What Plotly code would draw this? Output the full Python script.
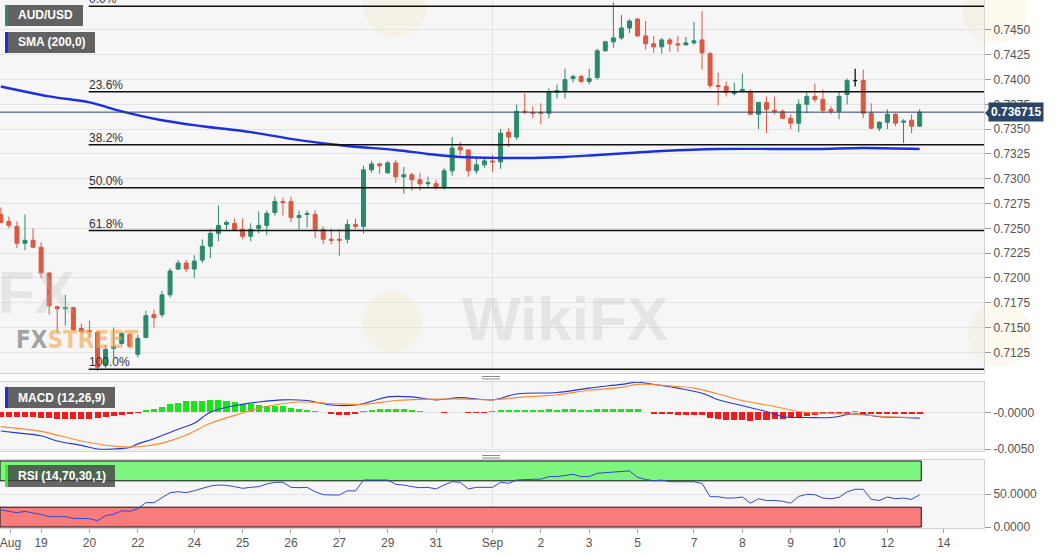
import plotly.graph_objects as go

# ---------------- data (4-hour AUD/USD candles, index = candle number) ----------------
opens = [0.7264, 0.7257, 0.7252, 0.7235, 0.7238, 0.7231, 0.7205, 0.7171, 0.7169, 0.7170,
         0.7149, 0.7147, 0.7145, 0.7112, 0.7129, 0.7134, 0.7143, 0.7123, 0.7140, 0.7163,
         0.7163, 0.7183, 0.7209, 0.7215, 0.7209, 0.7218, 0.7232, 0.7245, 0.7254, 0.7255,
         0.7249, 0.7242, 0.7250, 0.7253, 0.7266, 0.7277, 0.7277, 0.7261, 0.7264, 0.7264,
         0.7249, 0.7239, 0.7239, 0.7239, 0.7254, 0.7252, 0.7309, 0.7315, 0.7306, 0.7316,
         0.7302, 0.7304, 0.7299, 0.7295, 0.7295, 0.7291, 0.7308, 0.7332, 0.7329, 0.7308,
         0.7314, 0.7318, 0.7317, 0.7347, 0.7342, 0.7368, 0.7367, 0.7367, 0.7366, 0.7387,
         0.7389, 0.7401, 0.7403, 0.7398, 0.7402, 0.7429, 0.7438, 0.7442, 0.7452, 0.7461,
         0.7444, 0.7436, 0.7433, 0.7440, 0.7436, 0.7435, 0.7437, 0.7440, 0.7426, 0.7394,
         0.7393, 0.7386, 0.7388, 0.7388, 0.7365, 0.7377, 0.7369, 0.7368, 0.7361, 0.7356,
         0.7375, 0.7383, 0.7380, 0.7370, 0.7368, 0.7385, 0.7399, 0.7399, 0.7366, 0.7351,
         0.7357, 0.7365, 0.7357, 0.7359, 0.7353]
highs = [0.7271, 0.7262, 0.7257, 0.7264, 0.7250, 0.7236, 0.7206, 0.7172, 0.7183, 0.7171,
         0.7154, 0.7157, 0.7147, 0.7132, 0.7150, 0.7146, 0.7145, 0.7143, 0.7167, 0.7168,
         0.7187, 0.7210, 0.7218, 0.7218, 0.7223, 0.7239, 0.7249, 0.7273, 0.7258, 0.7260,
         0.7260, 0.7255, 0.7267, 0.7268, 0.7282, 0.7281, 0.7282, 0.7268, 0.7268, 0.7268,
         0.7252, 0.7250, 0.7249, 0.7259, 0.7260, 0.7313, 0.7318, 0.7316, 0.7318, 0.7319,
         0.7312, 0.7306, 0.7306, 0.7302, 0.7299, 0.7311, 0.7342, 0.7337, 0.7330, 0.7321,
         0.7322, 0.7324, 0.7350, 0.7351, 0.7375, 0.7386, 0.7373, 0.7376, 0.7391, 0.7395,
         0.7411, 0.7405, 0.7405, 0.7411, 0.7431, 0.7439, 0.7478, 0.7465, 0.7461, 0.7462,
         0.7459, 0.7444, 0.7442, 0.7442, 0.7444, 0.7443, 0.7458, 0.7469, 0.7428, 0.7407,
         0.7398, 0.7397, 0.7406, 0.7390, 0.7377, 0.7383, 0.7383, 0.7370, 0.7365, 0.7380,
         0.7387, 0.7396, 0.7390, 0.7373, 0.7388, 0.7401, 0.7411, 0.7410, 0.7376, 0.7358,
         0.7370, 0.7366, 0.7360, 0.7365, 0.7370]
lows = [0.7255, 0.7250, 0.7230, 0.7228, 0.7230, 0.7200, 0.7163, 0.7145, 0.7152, 0.7146,
        0.7144, 0.7140, 0.7106, 0.7109, 0.7120, 0.7132, 0.7129, 0.7120, 0.7140, 0.7150,
        0.7160, 0.7180, 0.7208, 0.7206, 0.7200, 0.7215, 0.7220, 0.7237, 0.7249, 0.7247,
        0.7239, 0.7237, 0.7245, 0.7243, 0.7263, 0.7263, 0.7256, 0.7249, 0.7251, 0.7240,
        0.7234, 0.7234, 0.7222, 0.7235, 0.7249, 0.7245, 0.7306, 0.7305, 0.7305, 0.7296,
        0.7285, 0.7288, 0.7288, 0.7291, 0.7289, 0.7289, 0.7303, 0.7324, 0.7302, 0.7305,
        0.7311, 0.7307, 0.7310, 0.7332, 0.7339, 0.7365, 0.7361, 0.7355, 0.7361, 0.7381,
        0.7381, 0.7397, 0.7397, 0.7395, 0.7400, 0.7428, 0.7432, 0.7440, 0.7447, 0.7443,
        0.7430, 0.7427, 0.7426, 0.7428, 0.7428, 0.7434, 0.7435, 0.7410, 0.7391, 0.7374,
        0.7383, 0.7384, 0.7387, 0.7364, 0.7350, 0.7346, 0.7365, 0.7360, 0.7350, 0.7347,
        0.7366, 0.7377, 0.7366, 0.7365, 0.7360, 0.7375, 0.7393, 0.7361, 0.7350, 0.7348,
        0.7350, 0.7353, 0.7336, 0.7346, 0.7352]
closes = [0.7256, 0.7253, 0.7235, 0.7238, 0.7231, 0.7205, 0.7172, 0.7169, 0.7170, 0.7148,
          0.7146, 0.7146, 0.7110, 0.7128, 0.7131, 0.7144, 0.7131, 0.7139, 0.7162, 0.7160,
          0.7183, 0.7207, 0.7215, 0.7209, 0.7217, 0.7232, 0.7245, 0.7253, 0.7256, 0.7249,
          0.7242, 0.7249, 0.7253, 0.7265, 0.7277, 0.7276, 0.7261, 0.7263, 0.7265, 0.7249,
          0.7239, 0.7238, 0.7238, 0.7254, 0.7252, 0.7309, 0.7315, 0.7313, 0.7316, 0.7302,
          0.7304, 0.7299, 0.7295, 0.7296, 0.7291, 0.7308, 0.7331, 0.7329, 0.7308, 0.7314,
          0.7318, 0.7317, 0.7346, 0.7342, 0.7368, 0.7367, 0.7366, 0.7366, 0.7387, 0.7389,
          0.7400, 0.7403, 0.7398, 0.7401, 0.7429, 0.7438, 0.7442, 0.7452, 0.7459, 0.7444,
          0.7436, 0.7433, 0.7440, 0.7436, 0.7435, 0.7437, 0.7439, 0.7427, 0.7394, 0.7393,
          0.7387, 0.7387, 0.7390, 0.7365, 0.7377, 0.7370, 0.7368, 0.7361, 0.7356, 0.7375,
          0.7383, 0.7380, 0.7369, 0.7368, 0.7383, 0.7399, 0.7399, 0.7366, 0.7351, 0.7357,
          0.7365, 0.7356, 0.7358, 0.7353, 0.736715]

# SMA(200) read at selected candles
sma_x = [0, 6, 11, 15, 20, 25, 31, 37, 43, 49, 53, 57, 62, 66, 70, 74, 78, 82, 89, 101, 107, 114]
sma_v = [0.7393, 0.7383, 0.7377, 0.7368, 0.7359, 0.7353, 0.7347, 0.7339, 0.7333, 0.7329, 0.7325,
         0.7322, 0.7321, 0.7321, 0.7322, 0.7324, 0.7326, 0.7328, 0.7330, 0.7330, 0.7331, 0.7330]

# MACD (12,26,9)
macd_x = [0, 2, 5, 7, 10, 12, 14, 16, 17, 19, 22, 24, 26, 29, 32, 35, 38, 41, 44, 46, 48, 51,
          54, 57, 61, 64, 69, 73, 77, 79, 81, 84, 87, 89, 92, 95, 97, 100, 103, 106, 109, 112, 114]
macd_v = [-0.00255, -0.0028, -0.0032, -0.0039, -0.0045, -0.0050, -0.0050, -0.0048, -0.0043,
          -0.0036, -0.0023, -0.0015, 0.0000, 0.0009, 0.0014, 0.0017, 0.0016, 0.0010, 0.0010,
          0.0015, 0.0021, 0.0021, 0.0017, 0.0020, 0.0017, 0.0025, 0.0027, 0.0033, 0.0038,
          0.0041, 0.0038, 0.0033, 0.0026, 0.0017, 0.0009, 0.0001, -0.0006, -0.0007, -0.0007,
          -0.0002, -0.0006, -0.0007, -0.0008]
signal_x = [0, 5, 10, 14, 17, 20, 23, 26, 30, 33, 37, 41, 45, 49, 54, 58, 61, 64, 69, 73, 77,
            79, 83, 86, 89, 92, 96, 99, 101, 105, 110, 114]
signal_v = [-0.00195, -0.0026, -0.0039, -0.0046, -0.0047, -0.0042, -0.0031, -0.0015, -0.0001,
            0.0008, 0.0014, 0.0012, 0.0011, 0.0016, 0.0018, 0.0018, 0.0017, 0.0020, 0.0024,
            0.0030, 0.0034, 0.0038, 0.0036, 0.0033, 0.0025, 0.0016, 0.0008, 0.0001, -0.0001,
            -0.0002, -0.0006, -0.0007]
hist_v = [-0.0006, -0.0006, -0.0007, -0.0007, -0.0007, -0.0008, -0.0008, -0.0009, -0.0009, -0.0009,
          -0.0009, -0.0009, -0.0008, -0.0007, -0.0005, -0.0003, -0.0002, -0.0001, 0.0003, 0.0004,
          0.0007, 0.0011, 0.0013, 0.0015, 0.0016, 0.0016, 0.0017, 0.0017, 0.0015, 0.0014,
          0.0012, 0.0011, 0.0010, 0.0009, 0.0009, 0.0008, 0.0006, 0.0005, 0.0003, 0.0002,
          0.0001, -0.0002, -0.0003, -0.0003, -0.0002, 0.0002, 0.0003, 0.0004, 0.0005, 0.0005,
          0.0004, 0.0003, 0.0002, 0.0001, 0.0001, -0.0001, 0.0001, 0.0001, -0.0001, -0.0001,
          -0.0001, 0.0002, 0.0003, 0.0003, 0.0003, 0.0003, 0.0003, 0.0003, 0.0004, 0.0003,
          0.0004, 0.0004, 0.0003, 0.0003, 0.0004, 0.0004, 0.0004, 0.0005, 0.0005, 0.0004,
          0.0001, -0.0002, -0.0002, -0.0002, -0.0003, -0.0003, -0.0003, -0.0004, -0.0008, -0.0009,
          -0.0010, -0.0011, -0.0011, -0.0012, -0.0011, -0.0010, -0.0009, -0.0009, -0.0008, -0.0006,
          -0.0005, -0.0003, -0.0002, -0.0002, -0.0002, -0.0002, 0.0002, -0.0002, -0.0002, -0.0002,
          -0.0002, -0.0002, -0.0002, -0.0002, -0.0002]

# RSI (14,70,30,1)
rsi_v = [25.8, 23.2, 21.7, 23.7, 21.7, 19.0, 15.7, 15.7, 15.7, 13.1, 13.0, 12.6, 9.6, 17.2, 19.2,
         24.7, 23.7, 27.8, 36.9, 36.9, 44.4, 52.0, 53.5, 52.0, 55.0, 58.6, 62.1, 63.6, 63.1, 61.1,
         58.6, 60.1, 61.1, 65.2, 67.7, 67.7, 60.1, 59.6, 60.1, 53.5, 49.0, 48.5, 48.5, 55.0, 54.5,
         71.2, 71.2, 71.2, 71.2, 64.6, 63.6, 61.1, 59.6, 60.1, 57.6, 63.6, 68.7, 67.7, 57.6, 60.1,
         60.1, 60.1, 67.7, 66.2, 71.2, 72.2, 72.2, 72.5, 76.3, 76.3, 78.0, 79.9, 76.3, 76.3, 81.4,
         82.5, 83.0, 84.0, 85.0, 75.3, 72.0, 70.1, 71.1, 68.6, 68.6, 68.6, 68.6, 66.0, 45.9, 45.9,
         43.8, 44.0, 45.4, 36.1, 42.8, 40.2, 40.2, 39.0, 36.1, 46.4, 49.5, 49.0, 43.8, 42.8, 45.0,
         53.1, 57.2, 57.2, 41.8, 40.2, 45.4, 42.8, 43.8, 41.8, 49.0]

# Fibonacci retracement anchors
fib_high = 0.7474
fib_low = 0.7108
fib_ratios = [0.0, 0.236, 0.382, 0.5, 0.618, 1.0]
fib_labels = ["0.0%", "23.6%", "38.2%", "50.0%", "61.8%", "100.0%"]

# axis ticks
price_ticks = [0.7125, 0.7150, 0.7175, 0.7200, 0.7225, 0.7250, 0.7275, 0.7300, 0.7325,
               0.7350, 0.7375, 0.7400, 0.7425, 0.7450]
date_pos = [1.2, 5, 11, 17, 24, 30, 36, 42, 48, 54, 61, 67, 73, 79, 86, 92, 98, 104, 110, 117]
date_text = ["Aug", "19", "20", "22", "24", "25", "26", "27", "29", "31", "Sep",
             "2", "3", "5", "7", "8", "9", "10", "12", "14"]
month_start = 61

last_price = closes[-1]

# ---------------- styling ----------------
UP = "#2a8a6c"
DN = "#dc5840"
W, H = 1060, 555
ML, MR, MT, MB = 0, 76, 0, 27
PW, PH = W - ML - MR, H - MT - MB
X0, X1 = -0.1, -0.1 + PW / 8.06
FONT = "Arial, Liberation Sans, sans-serif"


def px(xp):
    return xp / PW


def py(yp):
    return 1 - yp / PH


idx = list(range(len(opens)))
normal = [i for i in idx if opens[i] != closes[i]]
doji = [i for i in idx if opens[i] == closes[i]]

fig = go.Figure()
fig.add_trace(go.Candlestick(
    x=normal, open=[opens[i] for i in normal], high=[highs[i] for i in normal],
    low=[lows[i] for i in normal], close=[closes[i] for i in normal],
    increasing=dict(line=dict(color=UP, width=1), fillcolor=UP),
    decreasing=dict(line=dict(color=DN, width=1), fillcolor=DN),
    whiskerwidth=0, xaxis="x", yaxis="y", hoverinfo="skip"))
fig.add_trace(go.Candlestick(
    x=doji, open=[opens[i] for i in doji], high=[highs[i] for i in doji],
    low=[lows[i] for i in doji], close=[closes[i] for i in doji],
    increasing=dict(line=dict(color="#111111", width=1.3), fillcolor="#111111"),
    decreasing=dict(line=dict(color="#111111", width=1.3), fillcolor="#111111"),
    whiskerwidth=0, xaxis="x", yaxis="y", hoverinfo="skip"))
fig.add_trace(go.Scatter(x=sma_x, y=sma_v, mode="lines",
                         line=dict(color="#1a30dc", width=2.4, shape="spline"),
                         xaxis="x", yaxis="y", hoverinfo="skip"))

hist_colors = ["#19e619" if v > 0 else "#f21a1a" for v in hist_v]
fig.add_trace(go.Bar(x=idx, y=hist_v, marker=dict(color=hist_colors, line=dict(width=0)),
                     width=0.75, xaxis="x2", yaxis="y2", hoverinfo="skip"))
fig.add_trace(go.Scatter(x=macd_x, y=macd_v, mode="lines",
                         line=dict(color="#2438d0", width=1.1, shape="spline"),
                         xaxis="x2", yaxis="y2", hoverinfo="skip"))
fig.add_trace(go.Scatter(x=signal_x, y=signal_v, mode="lines",
                         line=dict(color="#ff8a2a", width=1.1, shape="spline"),
                         xaxis="x2", yaxis="y2", hoverinfo="skip"))
fig.add_trace(go.Scatter(x=idx, y=rsi_v, mode="lines",
                         line=dict(color="#3348c8", width=1),
                         xaxis="x3", yaxis="y3", hoverinfo="skip"))

shapes = []
annotations = []

# RSI bands
shapes.append(dict(type="rect", xref="x3", yref="y3", x0=X0, x1=idx[-1] + 0.2, y0=70, y1=100,
                   fillcolor="#7ef57e", line=dict(color="#111", width=1), layer="below"))
shapes.append(dict(type="rect", xref="x3", yref="y3", x0=X0, x1=idx[-1] + 0.2, y0=0, y1=30,
                   fillcolor="#f87c7c", line=dict(color="#111", width=1), layer="below"))

# month-start vertical grid line on every panel
for xr, yr in (("x", "y domain"), ("x2", "y2 domain"), ("x3", "y3 domain")):
    shapes.append(dict(type="line", xref=xr, yref=yr, x0=month_start, x1=month_start, y0=0, y1=1,
                       line=dict(color="#e2e2e2", width=1), layer="below"))

# Fibonacci lines and labels
for r, lab in zip(fib_ratios, fib_labels):
    lvl = fib_high - r * (fib_high - fib_low)
    shapes.append(dict(type="line", xref="x", yref="y", x0=10.9, x1=X1, y0=lvl, y1=lvl,
                       line=dict(color="#111111", width=1.5)))
    annotations.append(dict(x=10.9, y=lvl, xref="x", yref="y", text=lab, showarrow=False,
                            xanchor="left", yanchor="bottom", yshift=-2, xshift=-2,
                            font=dict(size=12, color="#333", family=FONT)))

# current price line + label
shapes.append(dict(type="line", xref="paper", yref="y", x0=0, x1=1, y0=last_price, y1=last_price,
                   line=dict(color="#2b4566", width=1)))
annotations.append(dict(x=1, y=last_price, xref="paper", yref="y", xanchor="left", xshift=4,
                        text="<b>%.6f</b>" % last_price, showarrow=False, bgcolor="#2b4566",
                        borderpad=2, font=dict(size=12, color="white", family=FONT)))
shapes.append(dict(type="path", xref="paper", yref="paper",
                   path="M %f %f L %f %f L %f %f Z" % (px(985), py(113), px(989.5), py(108),
                                                        px(989.5), py(118)),
                   fillcolor="#2b4566", line=dict(width=0)))


# legend boxes (label chips)
def chip(x0, y0, x1, y1, accent, text, bg="#626262"):
    shapes.append(dict(type="rect", xref="paper", yref="paper", x0=px(x0), x1=px(x1),
                       y0=py(y1), y1=py(y0), fillcolor=bg, line=dict(width=0)))
    shapes.append(dict(type="rect", xref="paper", yref="paper", x0=px(x0), x1=px(x0 + 3),
                       y0=py(y1), y1=py(y0), fillcolor=accent, line=dict(width=0)))
    annotations.append(dict(x=px(x0 + 11), y=py((y0 + y1) / 2), xref="paper", yref="paper",
                            xanchor="left", yanchor="middle", text="<b>%s</b>" % text,
                            showarrow=False, font=dict(size=12, color="white", family=FONT)))


chip(5, 5, 83, 26, UP, "AUD/USD")
chip(5, 32, 95, 53, "#1a30dc", "SMA (200,0)")
chip(5, 387, 115, 408, "#1a30dc", "MACD (12,26,9)")
chip(5, 465, 115, 487, "#33ee33", "RSI (14,70,30,1)", bg="rgba(70,70,70,0.82)")

# panel grips
for gy in (376.5, 455.5):
    for dy in (0, 2.5):
        shapes.append(dict(type="line", xref="paper", yref="paper", x0=px(482), x1=px(500),
                           y0=py(gy + dy), y1=py(gy + dy), line=dict(color="#8a8a8a", width=1)))

# watermarks
annotations.append(dict(x=px(-4), y=py(292), xref="paper", yref="paper", xanchor="left",
                        yanchor="middle", text="<b>FX</b>", showarrow=False,
                        font=dict(size=60, color="rgba(190,190,190,0.3)", family=FONT)))
annotations.append(dict(x=px(14), y=py(340), xref="paper", yref="paper", xanchor="left",
                        yanchor="middle",
                        text="<b><span style='color:rgba(135,135,135,0.75)'>FX</span>"
                             "<span style='color:rgba(240,165,70,0.6)'>STREET</span></b>",
                        showarrow=False,
                        font=dict(size=24, family="DejaVu Sans Condensed, Liberation Sans Narrow, sans-serif")))
annotations.append(dict(x=px(565), y=py(318), xref="paper", yref="paper", xanchor="center",
                        yanchor="middle", text="<b>WikiFX</b>", showarrow=False,
                        font=dict(size=62, color="rgba(185,185,185,0.28)", family=FONT)))
for cx, cy, rr in ((392, 322, 30), (395, 5, 32), (995, 12, 32), (1000, 335, 32)):
    shapes.append(dict(type="circle", xref="paper", yref="paper", x0=px(cx - rr), x1=px(cx + rr),
                       y0=py(cy + rr), y1=py(cy - rr), fillcolor="rgba(240,215,150,0.16)",
                       line=dict(width=0), layer="below"))

tickfont = dict(size=12, color="#555", family=FONT)
xcommon = dict(range=[X0, X1], showgrid=False, zeroline=False, showline=True,
               linecolor="#d2d2d2", mirror=True, fixedrange=True)
ycommon = dict(side="right", zeroline=False, showline=True, linecolor="#d2d2d2", mirror=True,
               gridcolor="#e4e4e4", ticks="outside", ticklen=6, tickcolor="#999",
               tickfont=tickfont, fixedrange=True)

fig.update_layout(
    width=W, height=H, margin=dict(l=ML, r=MR, t=MT, b=MB),
    paper_bgcolor="white", plot_bgcolor="#f6f6f6", showlegend=False,
    font=dict(family=FONT), bargap=0,
    xaxis=dict(**xcommon, anchor="y", showticklabels=False, rangeslider=dict(visible=False)),
    xaxis2=dict(**xcommon, anchor="y2", matches="x", showticklabels=False),
    xaxis3=dict(**xcommon, anchor="y3", matches="x", tickvals=date_pos, ticktext=date_text,
                ticks="outside", ticklen=4, tickcolor="#aaa", tickfont=tickfont,
                ticklabeloverflow="allow"),
    yaxis=dict(**ycommon, anchor="x", domain=[py(373), 1], range=[0.71042, 0.74802],
               tickvals=price_ticks, ticktext=["%.4f" % v for v in price_ticks]),
    yaxis2=dict(**ycommon, anchor="x2", domain=[py(451), py(382)], range=[-0.00527, 0.00413],
                tickvals=[0, -0.005], ticktext=["-0.0000", "-0.0050"]),
    yaxis3=dict(**ycommon, anchor="x3", domain=[0, py(460)], range=[-1.5, 101.5],
                tickvals=[50, 0], ticktext=["50.0000", "0.0000"]),
    shapes=shapes, annotations=annotations,
)

fig.write_html("out.html", config={"displayModeBar": False, "staticPlot": True},
               post_script="document.body.style.margin='0';document.body.style.overflow='hidden';")
